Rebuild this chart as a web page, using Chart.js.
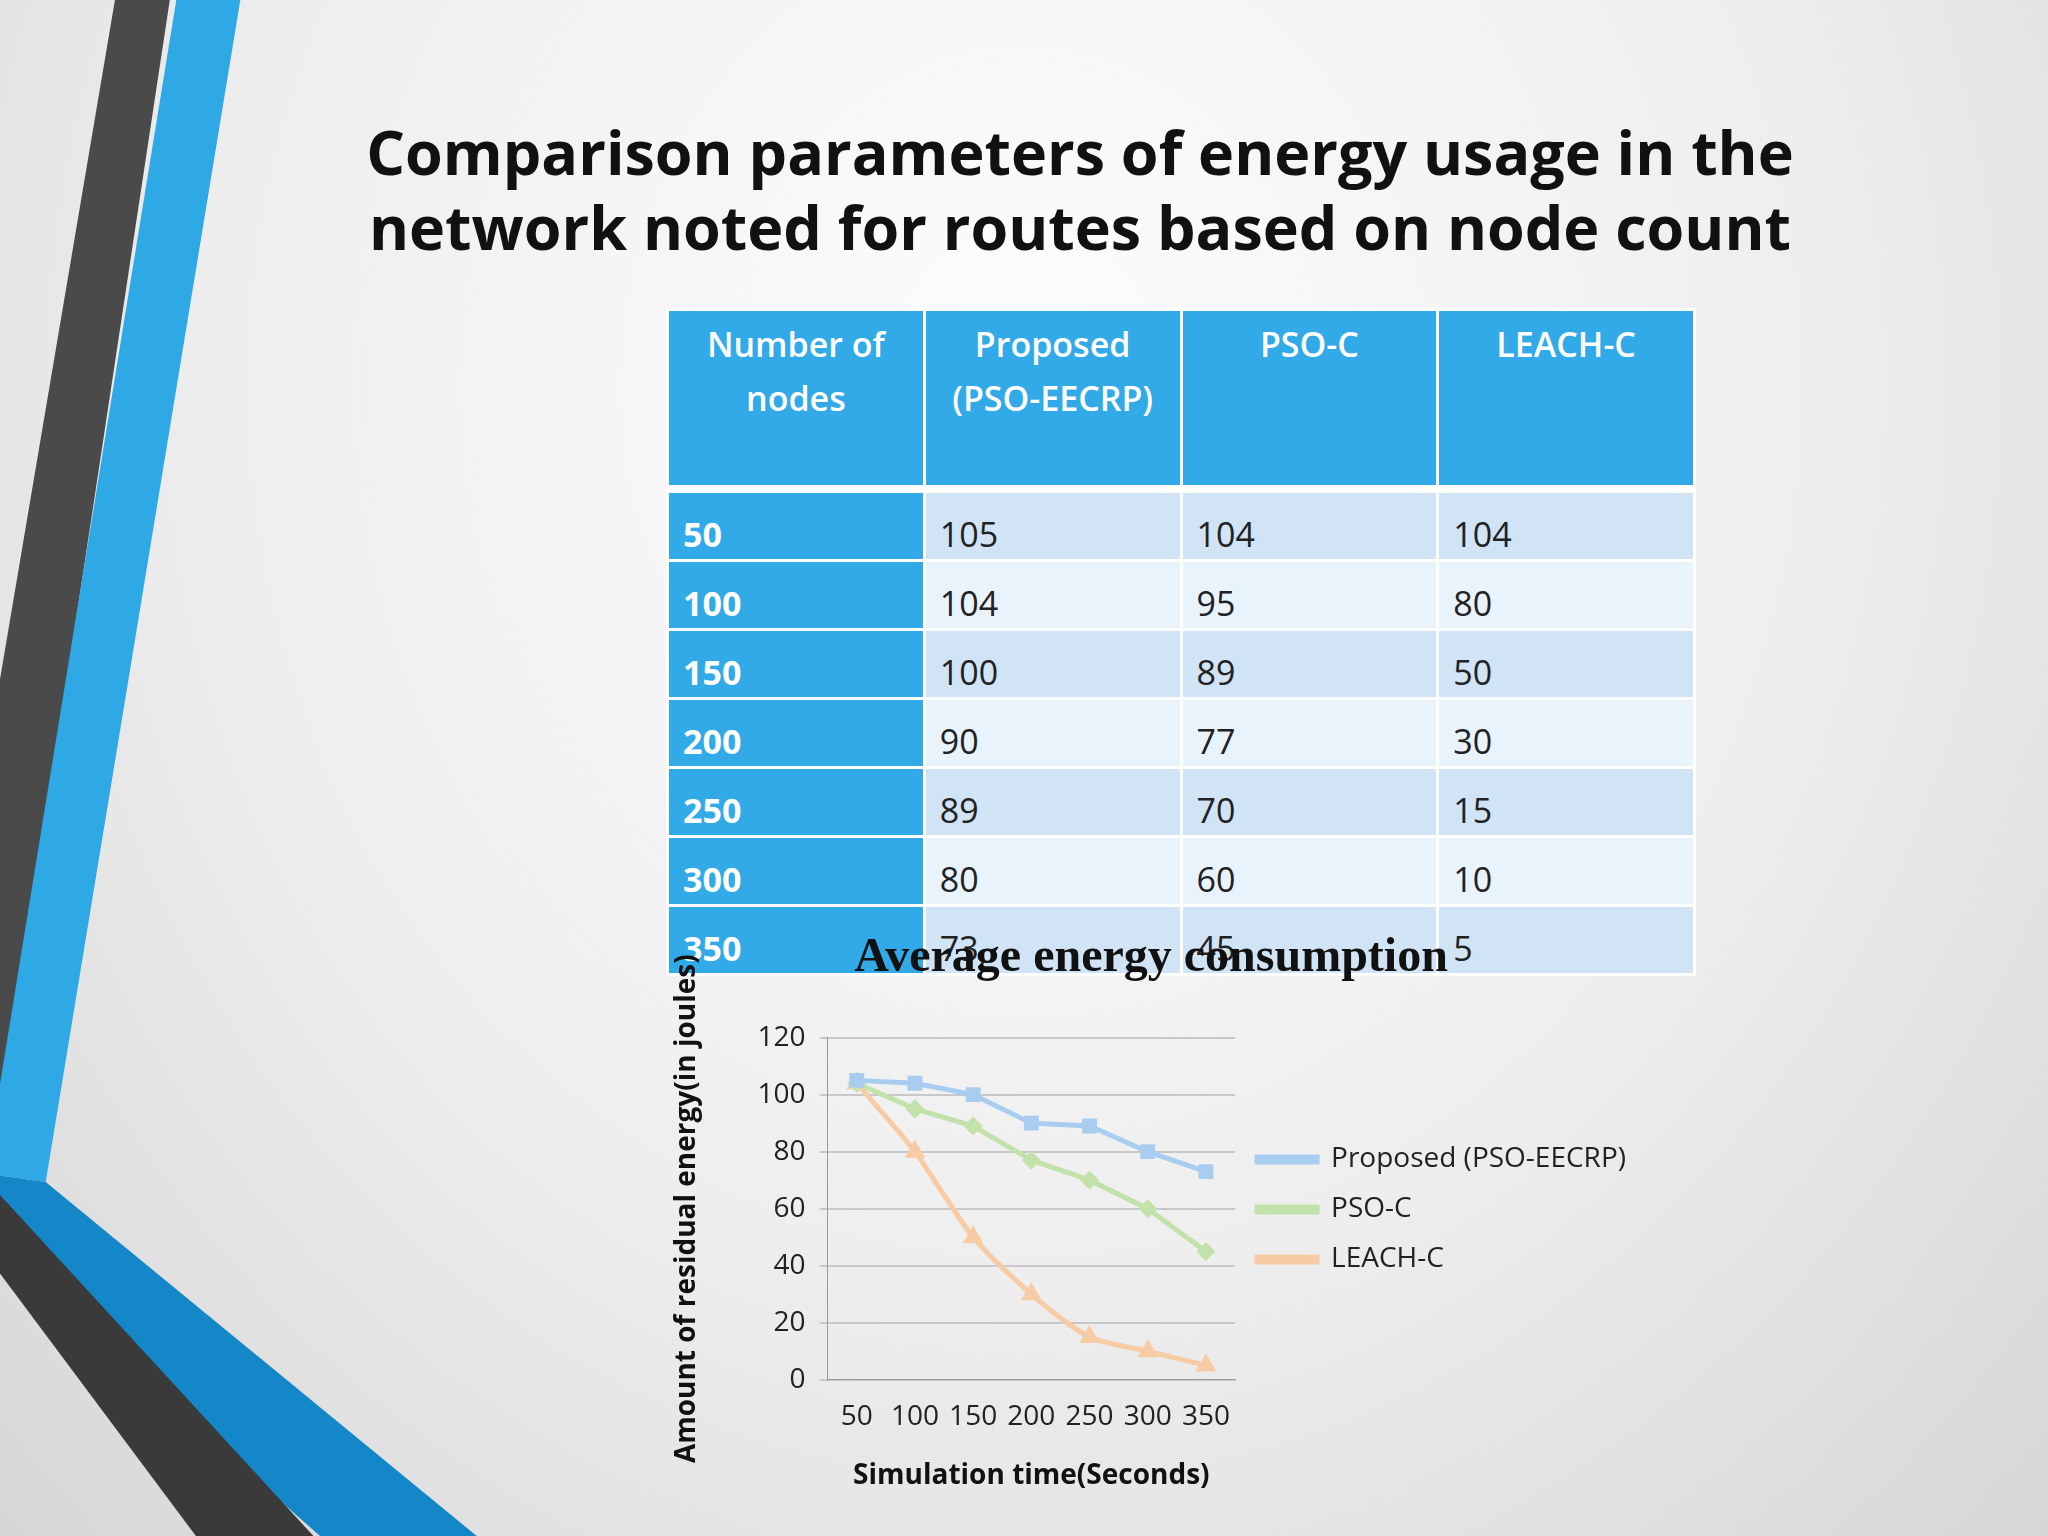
<!DOCTYPE html>
<html><head><meta charset="utf-8">
<script src="https://cdn.jsdelivr.net/npm/chart.js@4"></script>
<style>
html,body{margin:0;padding:0;}
body{width:2048px;height:1536px;position:relative;overflow:hidden;font-family:"Open Sans",sans-serif;
background:radial-gradient(ellipse at 50% 25%,#fdfdfd 0%,#eeeeee 55%,#d6d6d6 100%);}
#deco{position:absolute;left:0;top:0;width:2048px;height:1536px;}
h1{position:absolute;left:300px;width:1560px;top:114px;margin:0;text-align:center;font-size:61px;line-height:75px;font-weight:700;color:#111;}
table{position:absolute;left:666px;top:308px;width:1030px;border-collapse:collapse;table-layout:fixed;font-size:34px;color:#222;}
td,th{border:3px solid #fff;padding:0 14px;width:25%;}
th{background:#32aae8;color:#fff;font-weight:600;height:168px;vertical-align:top;padding-top:6px;line-height:54px;text-align:center;}
td{height:66px;vertical-align:bottom;padding-bottom:0;line-height:50px;}
td.k{background:#32aae8;color:#fff;font-weight:700;}
tr:nth-child(odd) td{background:#d0e4f6;} tr:nth-child(even) td{background:#e9f3fc;}
tr td.k{background:#32aae8 !important;}
tbody tr:first-child td{border-top:8px solid #fff;}
#cw{position:absolute;left:666px;top:922px;width:1030px;height:575px;}
</style></head><body>
<svg id="deco" viewBox="0 0 1568 1176" preserveAspectRatio="none">
<polygon points="88,0 130,0 12,780 0,860 0,520" fill="#4a4a4a"/>
<polygon points="135,0 184,0 35,905 0,900 0,830" fill="#2fa8e6"/>
<polygon points="0,900 35,905 365,1176 245,1176 0,960" fill="#1487c8"/>
<polygon points="0,915 0,975 150,1176 240,1176" fill="#3a3a3a"/>
</svg>
<h1>Comparison parameters of energy usage in the<br>network noted for routes based on node count</h1>
<table id="tb"><thead><tr><th>Number of nodes</th><th>Proposed<br>(PSO-EECRP)</th><th>PSO-C</th><th>LEACH-C</th></tr></thead><tbody></tbody></table>
<div id="cw"><canvas id="c"></canvas></div>
<script>
const nodes=["50","100","150","200","250","300","350"];
const proposed=[105,104,100,90,89,80,73];
const psoc=[104,95,89,77,70,60,45];
const leachc=[104,80,50,30,15,10,5];
const yTicks=[0,20,40,60,80,100,120];
const tb=document.querySelector('#tb tbody');
nodes.forEach((n,i)=>{const tr=document.createElement('tr');
tr.innerHTML=`<td class="k">${n}</td><td>${proposed[i]}</td><td>${psoc[i]}</td><td>${leachc[i]}</td>`;tb.appendChild(tr);});
Chart.defaults.font.family='"Open Sans",sans-serif';
new Chart(document.getElementById('c'),{type:'line',
data:{labels:nodes,datasets:[
{label:'Proposed (PSO-EECRP)',data:proposed,borderColor:'#a9cdf0',backgroundColor:'#a9cdf0',pointStyle:'rect',pointRadius:7,borderWidth:5,tension:0},
{label:'PSO-C',data:psoc,borderColor:'#c3e1aa',backgroundColor:'#c3e1aa',pointStyle:'rectRot',pointRadius:6,borderWidth:5,tension:0},
{label:'LEACH-C',data:leachc,borderColor:'#f7cba3',backgroundColor:'#f7cba3',pointStyle:'triangle',pointRadius:7,borderWidth:5,tension:0.25}]},
options:{responsive:true,maintainAspectRatio:false,animation:false,
layout:{padding:{left:0,right:60,top:0,bottom:0}},
plugins:{title:{display:true,text:'Average energy consumption',font:{family:'"Liberation Serif",serif',size:48,weight:'bold'},color:'#111',padding:{top:8,bottom:50}},
legend:{position:'right',align:'center',maxWidth:420,labels:{usePointStyle:false,boxWidth:60,boxHeight:5,font:{size:28},color:'#222',padding:22}}},
scales:{x:{offset:true,grid:{display:false,drawTicks:true},border:{color:'#999'},ticks:{font:{size:28},color:'#222',padding:12,maxRotation:0,autoSkip:false},
title:{display:true,text:'Simulation time(Seconds)',font:{size:28,weight:'bold'},color:'#111',padding:{top:14}}},
y:{min:0,max:120,afterBuildTicks:a=>{a.ticks=yTicks.map(v=>({value:v}));},grid:{color:'#c8c8c8',lineWidth:2},border:{color:'#999'},ticks:{font:{size:28},color:'#222',padding:14},
title:{display:true,text:'Amount of residual energy(in joules)',font:{size:28,weight:'bold'},color:'#111',padding:{bottom:40}}}}}});
</script>
</body></html>
